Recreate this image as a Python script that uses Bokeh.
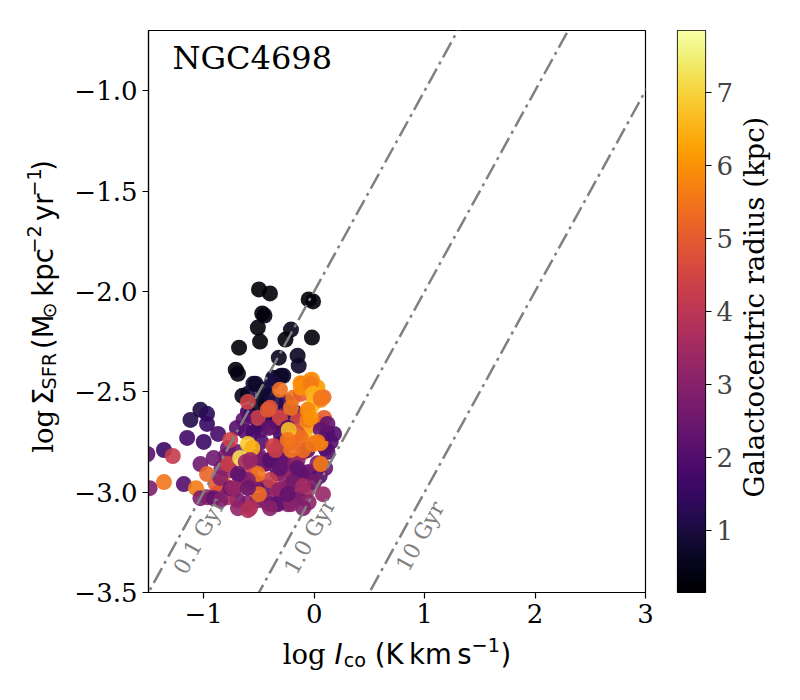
import numpy as np
from bokeh.plotting import figure
from bokeh.models import (ColumnDataSource, FixedTicker, Label, LinearColorMapper,
                          Range1d, CustomJSTickFormatter)
from bokeh.layouts import row, column
from bokeh.palettes import Inferno256
from bokeh.transform import linear_cmap
from bokeh.embed import file_html
from bokeh.resources import INLINE

# ---------------- data ----------------
# group: inner cloud fill (drawn first)
log_ico_f = [-0.305, -0.368, -0.422, -0.486, -0.305, -0.368, -0.278, -0.187, -0.241, -0.332,
             -0.422, -0.513, -0.576, -0.667, -0.758, -0.821, -0.730, -0.604, -0.513, -0.422,
             -0.332, -0.241, -0.151, -0.060, -0.060, -0.151, -0.241, -0.332, -0.422, -0.513,
             -0.604, -0.694, -0.785, -0.875, -0.966, -0.58, -0.50, -0.62, -0.44,
             -0.45, -0.35, -0.55, -0.48, -0.30, -0.20, 0.10, 0.15, -0.70, -0.80, -0.45, -0.25,
             -0.05, 0.05, -0.15, -0.45, -0.55,
             -0.42, -0.35, -0.25, -0.18, -0.60, -0.70, -0.78, -0.84, -0.50, -0.26, 0.00, 0.10,
             0.12, -0.05, -0.10]
log_sfr_f = [-2.607, -2.677, -2.627, -2.692, -2.756, -2.826, -2.826, -2.841, -2.891, -2.906,
             -2.856, -2.826, -2.891, -2.926, -2.891, -2.956, -2.991, -2.976, -2.956, -2.976,
             -2.991, -2.976, -2.941, -2.906, -2.991, -3.026, -3.041, -3.056, -3.056, -3.041,
             -3.056, -3.041, -3.026, -3.006, -3.026, -2.62, -2.66, -2.70, -2.56,
             -2.62, -2.65, -2.70, -2.75, -2.72, -2.63, -2.78, -2.75, -2.80, -2.82, -2.86, -2.86,
             -2.90, -2.92, -3.03, -3.03, -2.95,
             -2.52, -2.55, -2.55, -2.60, -2.60, -2.68, -2.78, -2.88, -2.82, -2.93, -2.95, -2.88,
             -2.80, -3.05, -3.08]
radius_f = [1.9, 4.5, 2.0, 2.4, 2.6, 3.3, 2.1, 4.4, 2.9, 1.9,
            3.0, 2.3, 4.2, 2.6, 3.4, 5.4, 2.3, 4.4, 2.8, 2.2,
            3.6, 2.4, 3.1, 2.6, 3.4, 2.7, 3.3, 2.6, 3.5, 2.9,
            3.1, 2.7, 3.6, 2.8, 3.2, 1.6, 1.4, 2.0, 1.1,
            1.2, 1.5, 1.8, 2.0, 1.8, 1.5, 2.2, 2.0, 2.5, 2.8, 2.5, 2.7,
            2.5, 2.0, 2.8, 3.0, 2.6,
            0.9, 1.1, 1.3, 1.6, 1.5, 2.0, 2.5, 3.0, 2.7, 3.2, 2.6, 2.4,
            2.0, 3.1, 2.9]

# group: dark, central points
log_ico_a = [-0.50, -0.40, -0.05, -0.01, -0.47, -0.45, -0.51, -0.49, -0.68, -0.21, -0.26, -0.02,
             -0.15, -0.32, -0.14, -0.71, -0.30, -0.69, -0.37, -0.28, -0.55, -0.60, -0.46, -0.53,
             -0.38, -0.51, -0.65]
log_sfr_a = [-1.99, -2.01, -2.04, -2.05, -2.11, -2.12, -2.18, -2.25, -2.28, -2.19, -2.24, -2.23,
             -2.32, -2.33, -2.37, -2.39, -2.42, -2.41, -2.43, -2.42, -2.46, -2.51, -2.49, -2.46,
             -2.45, -2.56, -2.52]
radius_a = [0.20, 0.25, 0.20, 0.30, 0.30, 0.35, 0.30, 0.25, 0.30, 0.50, 0.30, 0.30,
            0.60, 0.60, 0.70, 0.30, 0.80, 0.40, 0.60, 0.70, 0.90, 1.00, 0.80, 0.70,
            1.00, 0.60, 0.50]

# group: low-intensity arm
log_ico_b = [-1.12, -1.03, -0.97, -0.97, -1.15, -1.00, -0.87, -1.36, -1.28, -1.51, -1.36, -1.18,
             -1.49, -1.03, -1.07, -0.89, -0.97, -0.78, -0.91, -1.03, -0.91, -0.85, -0.85, -0.76]
log_sfr_b = [-2.64, -2.59, -2.61, -2.66, -2.73, -2.75, -2.71, -2.79, -2.82, -2.81, -2.95, -2.96,
             -2.98, -2.86, -2.98, -2.96, -2.91, -2.86, -2.83, -3.03, -3.03, -3.04, -2.93, -2.98]
radius_b = [1.2, 1.0, 1.3, 1.5, 1.7, 1.6, 1.8, 1.6, 4.2, 2.2, 5.5, 2.0,
            2.8, 2.5, 5.6, 5.0, 5.2, 4.3, 2.5, 2.8, 2.3, 2.9, 3.0, 2.5]

# group: main cloud
log_ico_c = [-0.124, -0.033, 0.030, 0.085, -0.006, -0.060, -0.151, -0.060, 0.057, 0.103,
             0.057, -0.060, -0.151, -0.214, -0.097, 0.030, 0.121,
             -0.11, -0.02, 0.01, -0.19, -0.31, -0.03, 0.06, 0.09, -0.06, -0.12, -0.12, -0.03,
             -0.01, 0.06, -0.60, -0.51, -0.40, -0.31, -0.42, -0.21, -0.06, -0.03, -0.64, -0.41,
             -0.24, 0.06, 0.18, 0.12, -0.21, -0.12, -0.76, -0.60, -0.37, 0.03, -0.67, -0.62,
             -0.23, -0.24, 0.06, -0.06, -0.15, -0.12, -0.31, -0.40, -0.51, -0.50, -0.60, 0.08,
             -0.19, -0.31, -0.38, -0.58, -0.24, -0.56, -0.58, -0.40, -0.35, -0.21, -0.10, -0.01,
             -0.15, -0.31, -0.69, -0.73, -0.60, -0.32, -0.19, -0.10, -0.33, -0.40, -0.69, -0.60,
             -0.21, -0.24]
log_sfr_c = [-2.457, -2.442, -2.477, -2.527, -2.557, -2.607, -2.642, -2.677, -2.657, -2.727,
             -2.756, -2.742, -2.707, -2.756, -2.801, -2.856, -2.707,
             -2.46, -2.44, -2.49, -2.53, -2.49, -2.58, -2.54, -2.63, -2.64, -2.51, -2.48, -2.46,
             -2.51, -2.53, -2.55, -2.63, -2.58, -2.63, -2.59, -2.58, -2.59, -2.63, -2.64, -2.68,
             -2.68, -2.69, -2.71, -2.66, -2.73, -2.73, -2.74, -2.76, -2.77, -2.75, -2.83, -2.85,
             -2.69, -2.74, -2.86, -2.79, -2.84, -2.91, -2.84, -2.94, -2.91, -3.01, -2.94, -3.01,
             -2.96, -2.99, -3.06, -3.08, -3.06, -2.78, -2.84, -2.84, -2.79, -2.79, -2.79, -2.76,
             -2.88, -2.88, -2.91, -2.98, -2.98, -2.99, -2.95, -2.97, -3.06, -3.08, -3.08, -3.09,
             -3.06, -3.01]
radius_c = [6.0, 5.7, 6.2, 5.3, 6.4, 5.6, 4.6, 6.1, 5.4, 2.4,
            5.8, 6.6, 4.8, 3.6, 4.5, 2.8, 2.1,
            5.8, 6.0, 6.3, 5.5, 5.4, 6.8, 5.8, 5.0, 5.6, 5.0, 6.0, 5.6,
            6.5, 5.5, 4.4, 4.3, 4.8, 4.5, 4.9, 5.5, 5.8, 6.0, 2.2, 2.2,
            2.0, 2.2, 2.0, 2.3, 5.5, 5.4, 4.4, 6.9, 4.4, 5.7, 7.2, 3.5,
            6.7, 5.5, 5.6, 2.2, 3.2, 2.2, 2.3, 4.3, 5.5, 5.3, 3.0, 3.3,
            4.0, 3.0, 2.5, 3.8, 3.0, 6.5, 3.3, 2.0, 4.3, 5.5, 5.4, 5.6,
            2.2, 2.3, 2.2, 3.3, 2.5, 3.2, 2.5, 3.5, 2.3, 3.0, 3.2, 3.8,
            3.0, 2.3]

galaxy_name = "NGC4698"
tdep_gyr = [0.1, 1.0, 10.0]
tdep_labels = ["0.1 Gyr", "1.0 Gyr", "10 Gyr"]
tdep_label_x = [-1.04, -0.04, 0.96]
tdep_label_y = -3.22
x_ticks = [-1, 0, 1, 2, 3]
y_ticks = [-3.5, -3.0, -2.5, -2.0, -1.5, -1.0]
cbar_ticks = [1, 2, 3, 4, 5, 6, 7]
r_low, r_high = 0.15, 7.85
cbar_title = "Galactocentric radius (kpc)"

# ---------------- layout constants ----------------
X0, X1 = -1.5, 3.0
Y0, Y1 = -3.5, -0.7
FW, FH = 497, 562
YLAB_W = 70
BL = 148 - YLAB_W
BT, BB = 30, 40
ROW_H = BT + FH + BB
CB_W = 9 + 28 + 28
CBLAB_W = 57
XLAB_H = 58
SERIF = "DejaVu Serif"
SANS = "DejaVu Sans"

def to_data(cx, cy):
    # cx, cy: pixel position inside the main figure canvas
    return (X0 + (cx - 148) / FW * (X1 - X0), Y1 - (cy - BT) / FH * (Y1 - Y0))

p = figure(x_range=Range1d(X0, X1), y_range=Range1d(Y0, Y1),
           frame_width=FW, frame_height=FH,
           min_border_left=BL, min_border_right=23, min_border_top=BT, min_border_bottom=BB,
           output_backend="svg", toolbar_location=None)
p.xgrid.visible = False
p.ygrid.visible = False
p.outline_line_color = "black"
p.outline_line_width = 1.2
for ax in (p.xaxis[0], p.yaxis[0]):
    ax.axis_line_color = "black"
    ax.axis_line_width = 1.2
    ax.major_tick_line_color = "black"
    ax.major_tick_line_width = 1.2
    ax.major_tick_out = 6
    ax.major_tick_in = 0
    ax.minor_tick_out = 0
    ax.minor_tick_in = 0
    ax.major_label_text_font = SERIF
    ax.major_label_text_font_size = "26px"
    ax.major_label_text_color = "black"
    ax.major_label_standoff = 5
p.xaxis.ticker = FixedTicker(ticks=x_ticks)
p.yaxis.ticker = FixedTicker(ticks=y_ticks)
p.xaxis.formatter = CustomJSTickFormatter(code="return tick.toFixed(0).replace('-', '\u2212');")
p.yaxis.formatter = CustomJSTickFormatter(code="return tick.toFixed(1).replace('-', '\u2212');")

cmap = linear_cmap("r", Inferno256, r_low, r_high)
src = ColumnDataSource(dict(x=log_ico_f + log_ico_a + log_ico_b + log_ico_c,
                            y=log_sfr_f + log_sfr_a + log_sfr_b + log_sfr_c,
                            r=radius_f + radius_a + radius_b + radius_c))
p.scatter("x", "y", source=src, size=16, fill_color=cmap, line_color=None, fill_alpha=0.9)

theta = np.arctan((FH / (Y1 - Y0)) / (FW / (X1 - X0)))
for t, lab, lx in zip(tdep_gyr, tdep_labels, tdep_label_x):
    xs = np.array([X0 - 1, X1 + 1])
    ys = xs - 3.0 - np.log10(t)
    p.line(xs, ys, line_color="#808080", line_width=2.5, line_dash="17 5 3 5")
    p.add_layout(Label(x=lx, y=tdep_label_y, text=lab, angle=theta, text_align="center",
                       text_baseline="middle", text_font=SERIF, text_font_size="22px",
                       text_color="#808080"))

tx, ty = to_data(172, 57)
p.add_layout(Label(x=tx, y=ty, text=galaxy_name, text_font=SERIF, text_font_size="32px",
                   text_color="black", text_baseline="middle"))

# ---------------- colorbar ----------------
mapper = LinearColorMapper(palette=Inferno256, low=r_low, high=r_high)
cb = figure(x_range=Range1d(0, 1), y_range=Range1d(r_low, r_high),
            frame_width=28, frame_height=FH,
            min_border_left=9, min_border_right=CB_W - 37, min_border_top=BT, min_border_bottom=BB,
            x_axis_location=None, y_axis_location="right",
            output_backend="svg", toolbar_location=None)
cb.xgrid.visible = False
cb.ygrid.visible = False
grad = np.linspace(r_low, r_high, 256).reshape(256, 1)
cb.image(image=[grad], x=0, y=r_low, dw=1, dh=r_high - r_low, color_mapper=mapper)
cb.outline_line_color = "black"
cb.outline_line_width = 1.2
ya = cb.yaxis[0]
ya.ticker = FixedTicker(ticks=cbar_ticks)
ya.axis_line_color = None
ya.major_tick_out = 6
ya.major_tick_in = 0
ya.minor_tick_out = 0
ya.minor_tick_in = 0
ya.major_tick_line_width = 1.2
ya.major_label_text_font = SERIF
ya.major_label_text_font_size = "26px"
ya.major_label_standoff = 5

# ---------------- label panels ----------------
def panel(w, h):
    f = figure(width=w, height=h, x_range=Range1d(0, w), y_range=Range1d(0, h),
               min_border=0, x_axis_location=None, y_axis_location=None,
               output_backend="svg", toolbar_location=None)
    f.xgrid.visible = False
    f.ygrid.visible = False
    f.outline_line_color = None
    return f

ylab = panel(YLAB_W, ROW_H)
cblab = panel(CBLAB_W, ROW_H)
TOTAL_W = YLAB_W + (BL + FW + 23) + CB_W + CBLAB_W
xlab = panel(TOTAL_W, XLAB_H)
PAGE_H = ROW_H + XLAB_H

cblab.add_layout(Label(x=17, y=ROW_H - (BT + FH / 2), text=cbar_title, angle=np.pi / 2,
                       text_align="center", text_baseline="middle", text_font=SERIF,
                       text_font_size="27.5px", text_color="black"))

WID = {SANS: {' ': 0.318, '(': 0.390, ')': 0.390, 'K': 0.656, 'k': 0.579, 'm': 0.974, 's': 0.521,
              'c': 0.550, 'o': 0.612, 'p': 0.635, 'y': 0.592, 'r': 0.411, 'M': 0.863, 'S': 0.635,
              'F': 0.575, 'R': 0.695, 'I': 0.295, '\u2212': 0.838, '1': 0.636, '2': 0.636,
              '\u03a3': 0.632, '\u2299': 0.838},
       SERIF: {'l': 0.320, 'o': 0.602, 'g': 0.640}}
F = 27.5
S = F * 0.7

def width(txt, font, size):
    return sum(WID[font].get(ch, 0.6) for ch in txt) * size

def composite(fig, pieces, vertical, center, base):
    total = sum(width(t, f, s) + g for t, f, s, st, sh, g in pieces)
    pos = center - total / 2
    for t, f, s, st, sh, g in pieces:
        if vertical:
            x, y, ang = base + sh, pos, np.pi / 2
        else:
            x, y, ang = pos, base - sh, 0
        fig.add_layout(Label(x=x, y=y, text=t, angle=ang, text_font=f,
                             text_font_size=f"{s:.1f}px", text_font_style=st,
                             text_align="left", text_baseline="middle",
                             text_color="black"))
        pos += width(t, f, s) + g

xlabel = [("log", SERIF, F, "normal", 0, 0.318 * F),
          ("I", SANS, F, "italic", 0, 0.04 * F),
          ("co", SANS, S, "normal", 7, 0.318 * F),
          ("(K", SANS, F, "normal", 0, 0.2 * F),
          ("km", SANS, F, "normal", 0, 0.2 * F),
          ("s", SANS, F, "normal", 0, 0.0),
          ("\u22121", SANS, S, "normal", -9, 0.02 * F),
          (")", SANS, F, "normal", 0, 0.0)]
composite(xlab, xlabel, False, 148 + FW / 2, PAGE_H - 653)

ylabel = [("log", SERIF, F, "normal", 0, 0.4 * F),
          ("\u03a3", SANS, F, "normal", 0, 0.0),
          ("SFR", SANS, S, "normal", 7, 0.318 * F),
          ("(M", SANS, F, "normal", 0, 0.0),
          ("\u2299", SANS, S, "normal", 7, 0.3 * F),
          ("kpc", SANS, F, "normal", 0, 0.0),
          ("\u22122", SANS, S, "normal", -9, 0.3 * F),
          ("yr", SANS, F, "normal", 0, 0.0),
          ("\u22121", SANS, S, "normal", -9, 0.02 * F),
          (")", SANS, F, "normal", 0, 0.0)]
composite(ylab, ylabel, True, ROW_H - (BT + FH / 2), 42)

layout = column(row(ylab, p, cb, cblab), xlab)
open("out.html", "w").write(file_html(layout, INLINE))
